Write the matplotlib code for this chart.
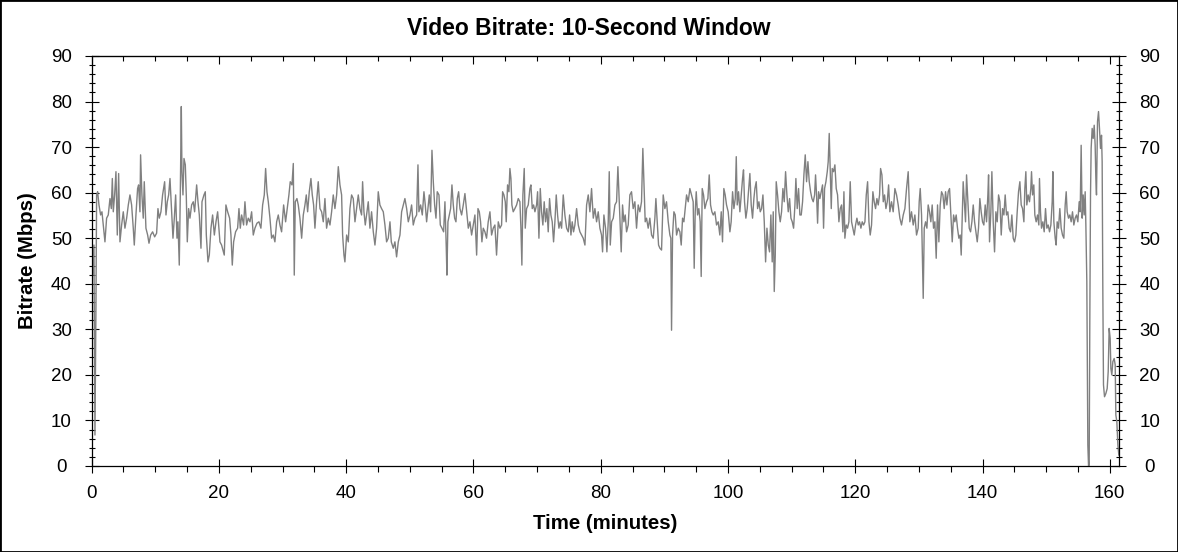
import matplotlib
matplotlib.use('Agg')
import matplotlib.pyplot as plt
from matplotlib.ticker import MultipleLocator
from matplotlib.patches import Rectangle

plt.rcParams['font.family'] = ['Liberation Sans', 'DejaVu Sans']

# bitrate, one list pair per ~20 minute stretch
t_00 = [0, 0.15, 0.36, 0.52, 0.68, 0.78, 0.94, 1.15, 1.41, 1.62, 1.83, 2.09, 2.35, 2.61, 2.88, 3.09, 3.25, 3.40,
        3.61, 3.82, 4.03, 4.24, 4.45, 4.71, 4.97, 5.23, 5.50, 5.76, 6.02, 6.28, 6.54, 6.70, 6.96, 7.22, 7.38, 7.59,
        7.69, 7.90, 8.11, 8.27, 8.53, 8.80, 9.01, 9.27, 9.58, 9.90, 10.21, 10.42, 10.63, 10.89, 11.15, 11.47, 11.68,
        11.89, 12.10, 12.31, 12.52, 12.78, 12.99, 13.20, 13.41, 13.56, 13.77, 13.93, 14.09, 14.19, 14.35, 14.51,
        14.72, 14.87, 15.03, 15.24, 15.45, 15.71, 15.97, 16.18, 16.50, 16.71, 16.92, 17.18, 17.34, 17.65, 17.86,
        18.02, 18.28, 18.49, 18.75, 19.01, 19.28, 19.54, 19.80]
v_00 = [53.6, 41.9, 48.5, 6.8, 36.0, 59.5, 60.2, 57.3, 55.1, 55.8, 52.9, 49.2, 54.4, 55.1, 58.7, 56.5, 63.1, 55.8,
        59.5, 64.6, 50.7, 64.2, 49.2, 52.9, 55.8, 52.2, 54.4, 57.3, 59.5, 57.3, 52.2, 48.5, 55.1, 60.9, 61.7, 55.8,
        68.3, 59.5, 54.4, 62.4, 52.2, 50.7, 48.9, 50.7, 51.4, 50.3, 51.1, 56.5, 54.4, 55.8, 59.5, 62.4, 55.1,
        58.0, 59.5, 63.1, 57.3, 50.0, 54.4, 59.5, 50.0, 53.6, 44.1, 59.5, 78.9, 64.6, 59.5, 67.5,
        66.1, 59.5, 49.2, 56.5, 54.4, 57.3, 58.0, 55.8, 61.7, 58.0, 55.1, 47.8, 58.0, 59.5, 60.2,
        50.7, 44.8, 46.3, 52.2, 55.1, 50.7, 53.6, 55.8]

t_20 = [20.16, 20.42, 20.84, 21.10, 21.37, 21.68, 21.89, 22.10, 22.31, 22.62, 22.94, 23.15, 23.36, 23.57, 23.88,
        24.09, 24.35, 24.61, 24.88, 25.14, 25.40, 25.66, 25.98, 26.29, 26.60, 26.87, 27.13, 27.34, 27.55, 27.76,
        28.02, 28.28, 28.54, 28.80, 29.07, 29.33, 29.59, 29.85, 30.17, 30.48, 30.74, 31.00, 31.21, 31.48, 31.69,
        31.84, 32.00, 32.26, 32.47, 32.73, 33.00, 33.26, 33.52, 33.73, 33.94, 34.20, 34.46, 34.67, 34.88, 35.09,
        35.35, 35.61, 35.88, 36.14, 36.40, 36.66, 36.92, 37.19, 37.45, 37.71, 37.97, 38.23, 38.50, 38.76, 39.02,
        39.28, 39.44, 39.65, 39.80, 40.07, 40.33]
v_20 = [49.2, 48.5, 46.3, 57.3, 55.8, 54.4, 50.7, 44.1, 49.2, 51.4, 52.2, 56.5, 52.2, 55.1, 52.9,
        58.0, 52.9, 54.4, 53.6, 55.8, 50.7, 52.2, 53.3, 53.6, 52.2, 57.3, 59.5, 65.3, 60.2, 58.0,
        54.4, 50.0, 50.7, 49.2, 53.6, 55.1, 52.9, 51.4, 57.3, 53.6, 56.5, 59.5, 62.4, 61.7, 66.4,
        41.9, 58.0, 58.7, 57.3, 54.4, 50.0, 55.1, 57.3, 59.5, 55.8, 60.2, 63.1, 59.5, 57.3, 52.2,
        58.0, 62.4, 56.5, 55.8, 53.6, 58.7, 52.2, 54.4, 52.9, 55.8, 59.5, 56.5, 59.5, 65.7, 61.7,
        59.5, 50.7, 46.3, 44.8, 50.7, 49.2]

t_40 = [40.59, 40.85, 41.11, 41.38, 41.64, 41.90, 42.16, 42.42, 42.58, 42.79, 43.00, 43.21, 43.47, 43.73, 43.99,
        44.26, 44.52, 44.78, 45.04, 45.30, 45.56, 45.83, 46.09, 46.35, 46.61, 46.88, 47.09, 47.40, 47.66, 47.92,
        48.19, 48.45, 48.71, 48.97, 49.23, 49.50, 49.76, 50.02, 50.28, 50.54, 50.80, 51.07, 51.28, 51.43, 51.70,
        51.96, 52.22, 52.43, 52.64, 52.85, 53.06, 53.27, 53.48, 53.69, 53.90, 54.11, 54.31, 54.58, 54.79, 55.05,
        55.31, 55.52, 55.73, 55.83, 55.99, 56.20, 56.41, 56.62, 56.83, 57.04, 57.25, 57.46, 57.67, 57.88, 58.14,
        58.40, 58.66, 58.93, 59.19, 59.45, 59.71, 59.97, 60.23, 60.50, 60.71, 60.92, 61.12, 61.33, 61.54]
v_40 = [56.5, 59.5, 58.7, 53.6, 56.5, 59.5, 56.5, 55.1, 62.4, 55.8, 52.9, 55.1, 58.0, 52.2, 55.8,
        51.4, 48.5, 52.2, 60.2, 57.3, 56.5, 55.8, 52.9, 49.2, 50.0, 53.6, 49.2, 47.8, 49.2, 45.9,
        49.2, 50.7, 55.8, 57.3, 58.7, 56.5, 53.6, 55.1, 57.3, 52.9, 54.4, 55.1, 66.1, 55.8, 57.3,
        55.1, 60.2, 57.3, 53.6, 56.5, 59.5, 55.8, 69.3, 62.4, 57.3, 54.4, 60.2, 59.5, 52.9, 52.2,
        51.4, 58.0, 47.8, 41.9, 53.6, 55.1, 56.5, 61.7, 57.3, 54.4, 53.6, 58.7, 60.2, 56.5, 55.1,
        57.3, 59.8, 55.8, 52.2, 53.6, 50.7, 52.9, 55.1, 46.3, 56.5, 55.8, 53.6, 49.2, 52.2]

t_60 = [61.80, 62.06, 62.32, 62.59, 62.85, 63.11, 63.37, 63.63, 63.90, 64.16, 64.42, 64.58, 64.79, 65.00, 65.15,
        65.36, 65.57, 65.73, 65.89, 66.04, 66.25, 66.51, 66.78, 67.04, 67.30, 67.46, 67.61, 67.77, 67.98, 68.14,
        68.35, 68.61, 68.87, 69.03, 69.24, 69.45, 69.66, 69.92, 70.08, 70.29, 70.50, 70.70, 70.91, 71.12, 71.33,
        71.54, 71.75, 71.96, 72.17, 72.38, 72.59, 72.80, 73.01, 73.22, 73.43, 73.64, 73.85, 74.11, 74.37, 74.64,
        74.90, 75.11, 75.32, 75.52, 75.73, 75.94, 76.21, 76.47, 76.73, 76.99, 77.25, 77.52, 77.78, 78.04, 78.30,
        78.56, 78.83, 79.09, 79.35, 79.61, 79.87, 80.13, 80.29, 80.50, 80.76, 80.97, 81.18, 81.34, 81.50, 81.71,
        81.97, 82.23, 82.49, 82.70, 82.91]
v_60 = [51.4, 50.0, 53.6, 55.8, 50.7, 52.2, 52.9, 46.3, 53.6, 52.2, 52.9, 60.2, 59.5, 58.0, 53.6,
        61.7, 60.2, 65.3, 63.1, 57.3, 55.8, 56.5, 57.3, 58.7, 58.0, 52.2, 44.1, 59.5, 65.3, 52.2,
        56.5, 57.3, 60.9, 61.7, 56.5, 57.3, 55.8, 57.3, 60.2, 50.0, 60.9, 55.8, 52.9, 58.0, 53.6,
        56.5, 51.4, 58.7, 55.1, 53.6, 49.2, 53.6, 59.5, 55.1, 52.2, 53.6, 52.2, 59.5, 55.1, 52.2,
        51.4, 55.1, 50.7, 53.6, 51.4, 52.9, 56.5, 52.9, 51.4, 50.7, 50.0, 48.5, 57.3, 59.5, 55.8,
        60.9, 54.4, 56.5, 53.6, 55.8, 52.2, 50.7, 47.0, 55.1, 52.2, 47.0, 53.6, 64.6, 48.5, 53.6,
        54.4, 57.3, 58.0, 65.7, 58.0]

t_80 = [83.22, 83.43, 83.64, 83.85, 84.06, 84.32, 84.58, 84.84, 85.10, 85.37, 85.63, 85.89, 86.15, 86.41, 86.62,
        86.78, 86.99, 87.20, 87.46, 87.72, 87.99, 88.25, 88.51, 88.67, 88.88, 89.09, 89.30, 89.56, 89.82, 90.08,
        90.34, 90.61, 90.87, 91.02, 91.13, 91.29, 91.50, 91.71, 91.92, 92.18, 92.44, 92.65, 92.86, 93.07, 93.28,
        93.49, 93.75, 94.01, 94.27, 94.53, 94.69, 94.85, 95.01, 95.22, 95.42, 95.63, 95.79, 95.95, 96.16, 96.37,
        96.63, 96.84, 97.05, 97.26, 97.47, 97.68, 97.94, 98.20, 98.46, 98.72, 98.94, 99.14, 99.35, 99.56, 99.77,
        100.03, 100.30, 100.50, 100.72, 100.93, 101.14, 101.30, 101.45, 101.66, 101.87, 102.08, 102.29, 102.44,
        102.60, 102.81, 103.02, 103.23, 103.44, 103.65, 103.86, 104.07]
v_80 = [47.0, 57.3, 53.6, 55.1, 51.4, 52.9, 59.5, 60.2, 56.5, 58.0, 52.2, 57.3, 55.8, 58.0, 69.7,
        62.4, 53.6, 54.4, 52.2, 54.4, 50.7, 50.0, 54.4, 58.7, 53.6, 48.5, 47.8, 47.4, 59.5, 56.5,
        58.0, 53.6, 50.7, 50.0, 29.8, 50.7, 55.8, 55.1, 50.7, 52.2, 51.4, 48.5, 54.4, 53.6, 56.5,
        59.5, 58.0, 60.9, 59.5, 58.0, 43.4, 55.8, 60.2, 55.1, 56.5, 53.6, 41.6, 60.9, 59.5, 56.5,
        58.0, 58.7, 63.9, 57.3, 55.8, 55.1, 55.8, 52.9, 53.6, 50.7, 55.8, 49.2, 60.9, 59.5, 57.3,
        55.8, 51.4, 53.6, 60.2, 56.5, 58.7, 67.9, 57.3, 60.2, 55.8, 59.5, 63.1, 65.0,
        58.0, 54.4, 56.5, 60.2, 64.2, 57.3, 54.4, 58.7]

t_104 = [104.23, 104.44, 104.65, 104.86, 105.07, 105.28, 105.49, 105.70, 105.91, 106.12, 106.33, 106.53, 106.74,
         106.95, 107.11, 107.27, 107.43, 107.58, 107.79, 108.00, 108.21, 108.42, 108.63, 108.84, 109.05, 109.26,
         109.47, 109.68, 109.89, 110.10, 110.31, 110.52, 110.67, 110.88, 111.09, 111.30, 111.51, 111.72, 111.93,
         112.14, 112.35, 112.56, 112.77, 112.98, 113.19, 113.40, 113.61, 113.76, 113.92, 114.08, 114.24, 114.44,
         114.65, 114.86, 115.02, 115.18, 115.39, 115.60, 115.75, 115.91, 116.07, 116.23, 116.38, 116.59, 116.80,
         117.01, 117.22, 117.43, 117.64, 117.85, 118.06, 118.22, 118.37, 118.58, 118.79, 119.00, 119.21, 119.42,
         119.63, 119.84, 120.05, 120.26, 120.47, 120.68, 120.89, 121.10, 121.31, 121.52, 121.73, 121.94, 122.15,
         122.35, 122.56, 122.77, 122.98, 123.19, 123.40, 123.61, 123.82, 123.98, 124.19, 124.40, 124.61, 124.82,
         125.03, 125.24]
v_104 = [60.9, 62.4, 56.5, 58.0, 55.8, 56.5, 59.5, 53.6, 44.8, 52.2, 48.5, 47.0, 55.1,
         44.8, 55.8, 38.3, 46.3, 62.4, 59.5, 55.8, 53.6, 55.8, 60.9, 58.0, 64.6, 59.5,
         55.8, 58.7, 54.4, 53.6, 52.2, 57.3, 63.1, 56.5, 60.9, 55.1, 55.1, 58.0, 63.9,
         68.3, 62.4, 66.8, 62.4, 60.2, 58.7, 58.0, 59.5, 63.9, 59.5, 53.3, 60.2, 58.7,
         60.2, 61.7, 52.2, 60.9, 62.4, 64.6, 66.8, 73.0, 64.6, 56.5, 65.3, 64.6, 66.1,
         60.9, 59.5, 53.6, 56.5, 57.3, 51.4, 60.2, 50.0, 52.9, 52.2, 53.6, 62.4, 53.6,
         52.2, 50.7, 52.9, 54.4, 52.9, 53.6, 52.2, 53.6, 52.9, 53.6, 59.5, 62.4, 53.6,
         50.7, 52.9, 60.2, 58.0, 56.5, 58.7, 57.3, 59.5, 65.3, 63.9, 58.0, 59.5, 56.5,
         58.0, 61.7]

t_125 = [125.44, 125.70, 125.96, 126.23, 126.49, 126.75, 127.01, 127.27, 127.54, 127.80, 128.06, 128.32, 128.58,
         128.84, 129.11, 129.37, 129.63, 129.89, 130.05, 130.21, 130.42, 130.57, 130.68, 130.84, 131.05, 131.26,
         131.46, 131.67, 131.88, 132.09, 132.30, 132.51, 132.72, 132.93, 133.14, 133.35, 133.56, 133.77, 133.98,
         134.19, 134.40, 134.61, 134.82, 135.03, 135.24, 135.45, 135.65, 135.86, 136.07, 136.28, 136.49, 136.65,
         136.81, 136.96, 137.17, 137.33, 137.49, 137.70, 137.91, 138.12, 138.33, 138.54, 138.75, 138.96, 139.17,
         139.37, 139.58, 139.79, 140.00, 140.21, 140.42, 140.63, 140.84, 140.95, 141.10, 141.31, 141.47, 141.68,
         141.89, 142.10, 142.31, 142.52, 142.73, 142.94, 143.15, 143.36, 143.56, 143.77, 143.98, 144.19, 144.40,
         144.61, 144.82, 145.03, 145.24, 145.45, 145.66, 145.87, 146.08, 146.29, 146.50]
v_125 = [55.8, 58.0, 55.8, 60.9, 59.5, 57.3, 54.4, 52.9, 55.1, 56.5, 60.9, 64.6, 53.6,
         55.8, 52.9, 55.1, 50.7, 52.2, 58.0, 60.9, 55.1, 44.8, 36.8, 52.2, 53.6, 52.2,
         57.3, 55.8, 53.6, 57.3, 52.2, 53.6, 45.6, 57.3, 49.2, 57.3, 60.2, 59.5, 56.5,
         60.2, 57.3, 60.2, 60.9, 55.1, 49.2, 55.1, 53.6, 55.1, 52.2, 50.0, 50.7, 46.3,
         55.1, 62.4, 57.3, 53.6, 63.9, 58.0, 52.2, 51.4, 53.6, 57.3, 53.6, 51.4, 49.2,
         52.2, 58.7, 55.8, 53.6, 52.9, 57.3, 53.6, 59.5, 63.9, 49.2, 55.8, 64.6, 53.6,
         47.0, 55.8, 53.6, 59.5, 58.0, 50.7, 56.5, 55.1, 59.5, 55.1, 55.8, 52.2, 51.4,
         55.1, 50.0, 49.2, 50.7, 55.8, 60.2, 62.4, 57.3, 56.5, 53.6]

t_146 = [146.65, 146.81, 146.96, 147.17, 147.38, 147.59, 147.70, 147.86, 148.06, 148.22, 148.43, 148.64, 148.85,
         148.95, 149.11, 149.27, 149.48, 149.69, 149.90, 150.11, 150.32, 150.53, 150.74, 150.95, 151.05, 151.21,
         151.42, 151.57, 151.73, 151.94, 152.15, 152.36, 152.57, 152.78, 152.99, 153.15, 153.30, 153.51, 153.72,
         153.93, 154.14, 154.35, 154.56, 154.77, 154.98, 155.19, 155.35, 155.50, 155.66, 155.82, 155.97, 156.13,
         156.24, 156.39, 156.55, 156.66, 156.76, 156.86, 156.97, 157.07, 157.23, 157.39, 157.55, 157.70, 157.81,
         157.91, 158.07, 158.23, 158.38, 158.54, 158.70, 158.80, 158.91, 159.01, 159.17, 159.38, 159.59, 159.75,
         159.90, 160.06, 160.17, 160.32, 160.48, 160.69, 160.85, 160.95, 161.11, 161.27, 161.42]
v_146 = [60.9, 64.6, 57.3, 59.5, 58.0, 60.9, 64.6, 59.5, 61.7, 55.1, 53.6, 55.1, 52.9,
         63.1, 55.8, 52.2, 53.6, 51.4, 56.5, 52.2, 52.9, 51.4, 52.9, 58.0, 64.6, 53.6,
         50.0, 48.5, 53.6, 52.2, 56.5, 52.2, 50.7, 50.0, 57.3, 60.2, 55.8, 54.4, 55.1,
         53.6, 55.8, 52.9, 54.4, 55.1, 53.6, 58.0, 55.8, 70.4, 54.4, 59.5, 55.1, 60.2,
         52.9, 40.5, 4.6, 0.0, 0.2, 31.7, 59.5, 69.7, 74.1, 71.9, 74.8, 70.4, 63.1,
         59.5, 75.6, 77.8, 74.1, 69.7, 72.6, 66.8, 37.5, 17.8, 15.2, 15.9, 17.0, 20.7,
         30.2, 28.0, 21.4, 20.0, 22.9, 23.6, 22.2, 11.2, 9.7, 4.6, 2.4]

minutes = t_00 + t_20 + t_40 + t_60 + t_80 + t_104 + t_125 + t_146
mbps = v_00 + v_20 + v_40 + v_60 + v_80 + v_104 + v_125 + v_146

fig = plt.figure(figsize=(11.78, 5.52), dpi=100)
ax = fig.add_axes([0.0778, 0.1558, 0.8724, 0.7428])

ax.plot(minutes, mbps, color='#808080', lw=1.0)

ax.set_xlim(0, 161.5)
ax.set_ylim(0, 90)

ax.xaxis.set_major_locator(MultipleLocator(20))
ax.xaxis.set_minor_locator(MultipleLocator(5))
ax.yaxis.set_major_locator(MultipleLocator(10))
ax.yaxis.set_minor_locator(MultipleLocator(2))

ax.tick_params(axis='x', which='major', direction='inout', length=10, width=0.8, pad=9, labelsize=13.5)
ax.tick_params(axis='x', which='minor', direction='out', length=4.3, width=0.8)
ax.tick_params(axis='y', which='major', direction='inout', length=9.6, width=0.8, pad=17,
               right=True, labelright=True, labelsize=13.5)
ax.tick_params(axis='y', which='minor', direction='inout', length=4.8, width=0.8, right=True)

# y labels sit centred in their column on both sides
for tk in ax.yaxis.get_major_ticks():
    tk.label1.set_horizontalalignment('center')
    tk.label2.set_horizontalalignment('center')

# top edge has inward ticks only
top = ax.secondary_xaxis('top')
top.xaxis.set_major_locator(MultipleLocator(20))
top.xaxis.set_minor_locator(MultipleLocator(5))
top.tick_params(which='major', direction='in', length=6, width=0.8, labeltop=False)
top.tick_params(which='minor', direction='in', length=3.6, width=0.8)

for s in ax.spines.values():
    s.set_linewidth(0.9)

fig.text(0.5, 0.948, 'Video Bitrate: 10-Second Window', ha='center', va='center',
         fontsize=16.5, fontweight='bold')
fig.text(0.514, 0.051, 'Time (minutes)', ha='center', va='center', fontsize=14.7, fontweight='bold')
fig.text(0.023, 0.527, 'Bitrate (Mbps)', ha='center', va='center', rotation=90,
         fontsize=14.7, fontweight='bold')

fig.patches.append(Rectangle((0, 0), 1, 1, transform=fig.transFigure, fill=False,
                             edgecolor='black', lw=2))

fig.savefig('out.png', dpi=100)
